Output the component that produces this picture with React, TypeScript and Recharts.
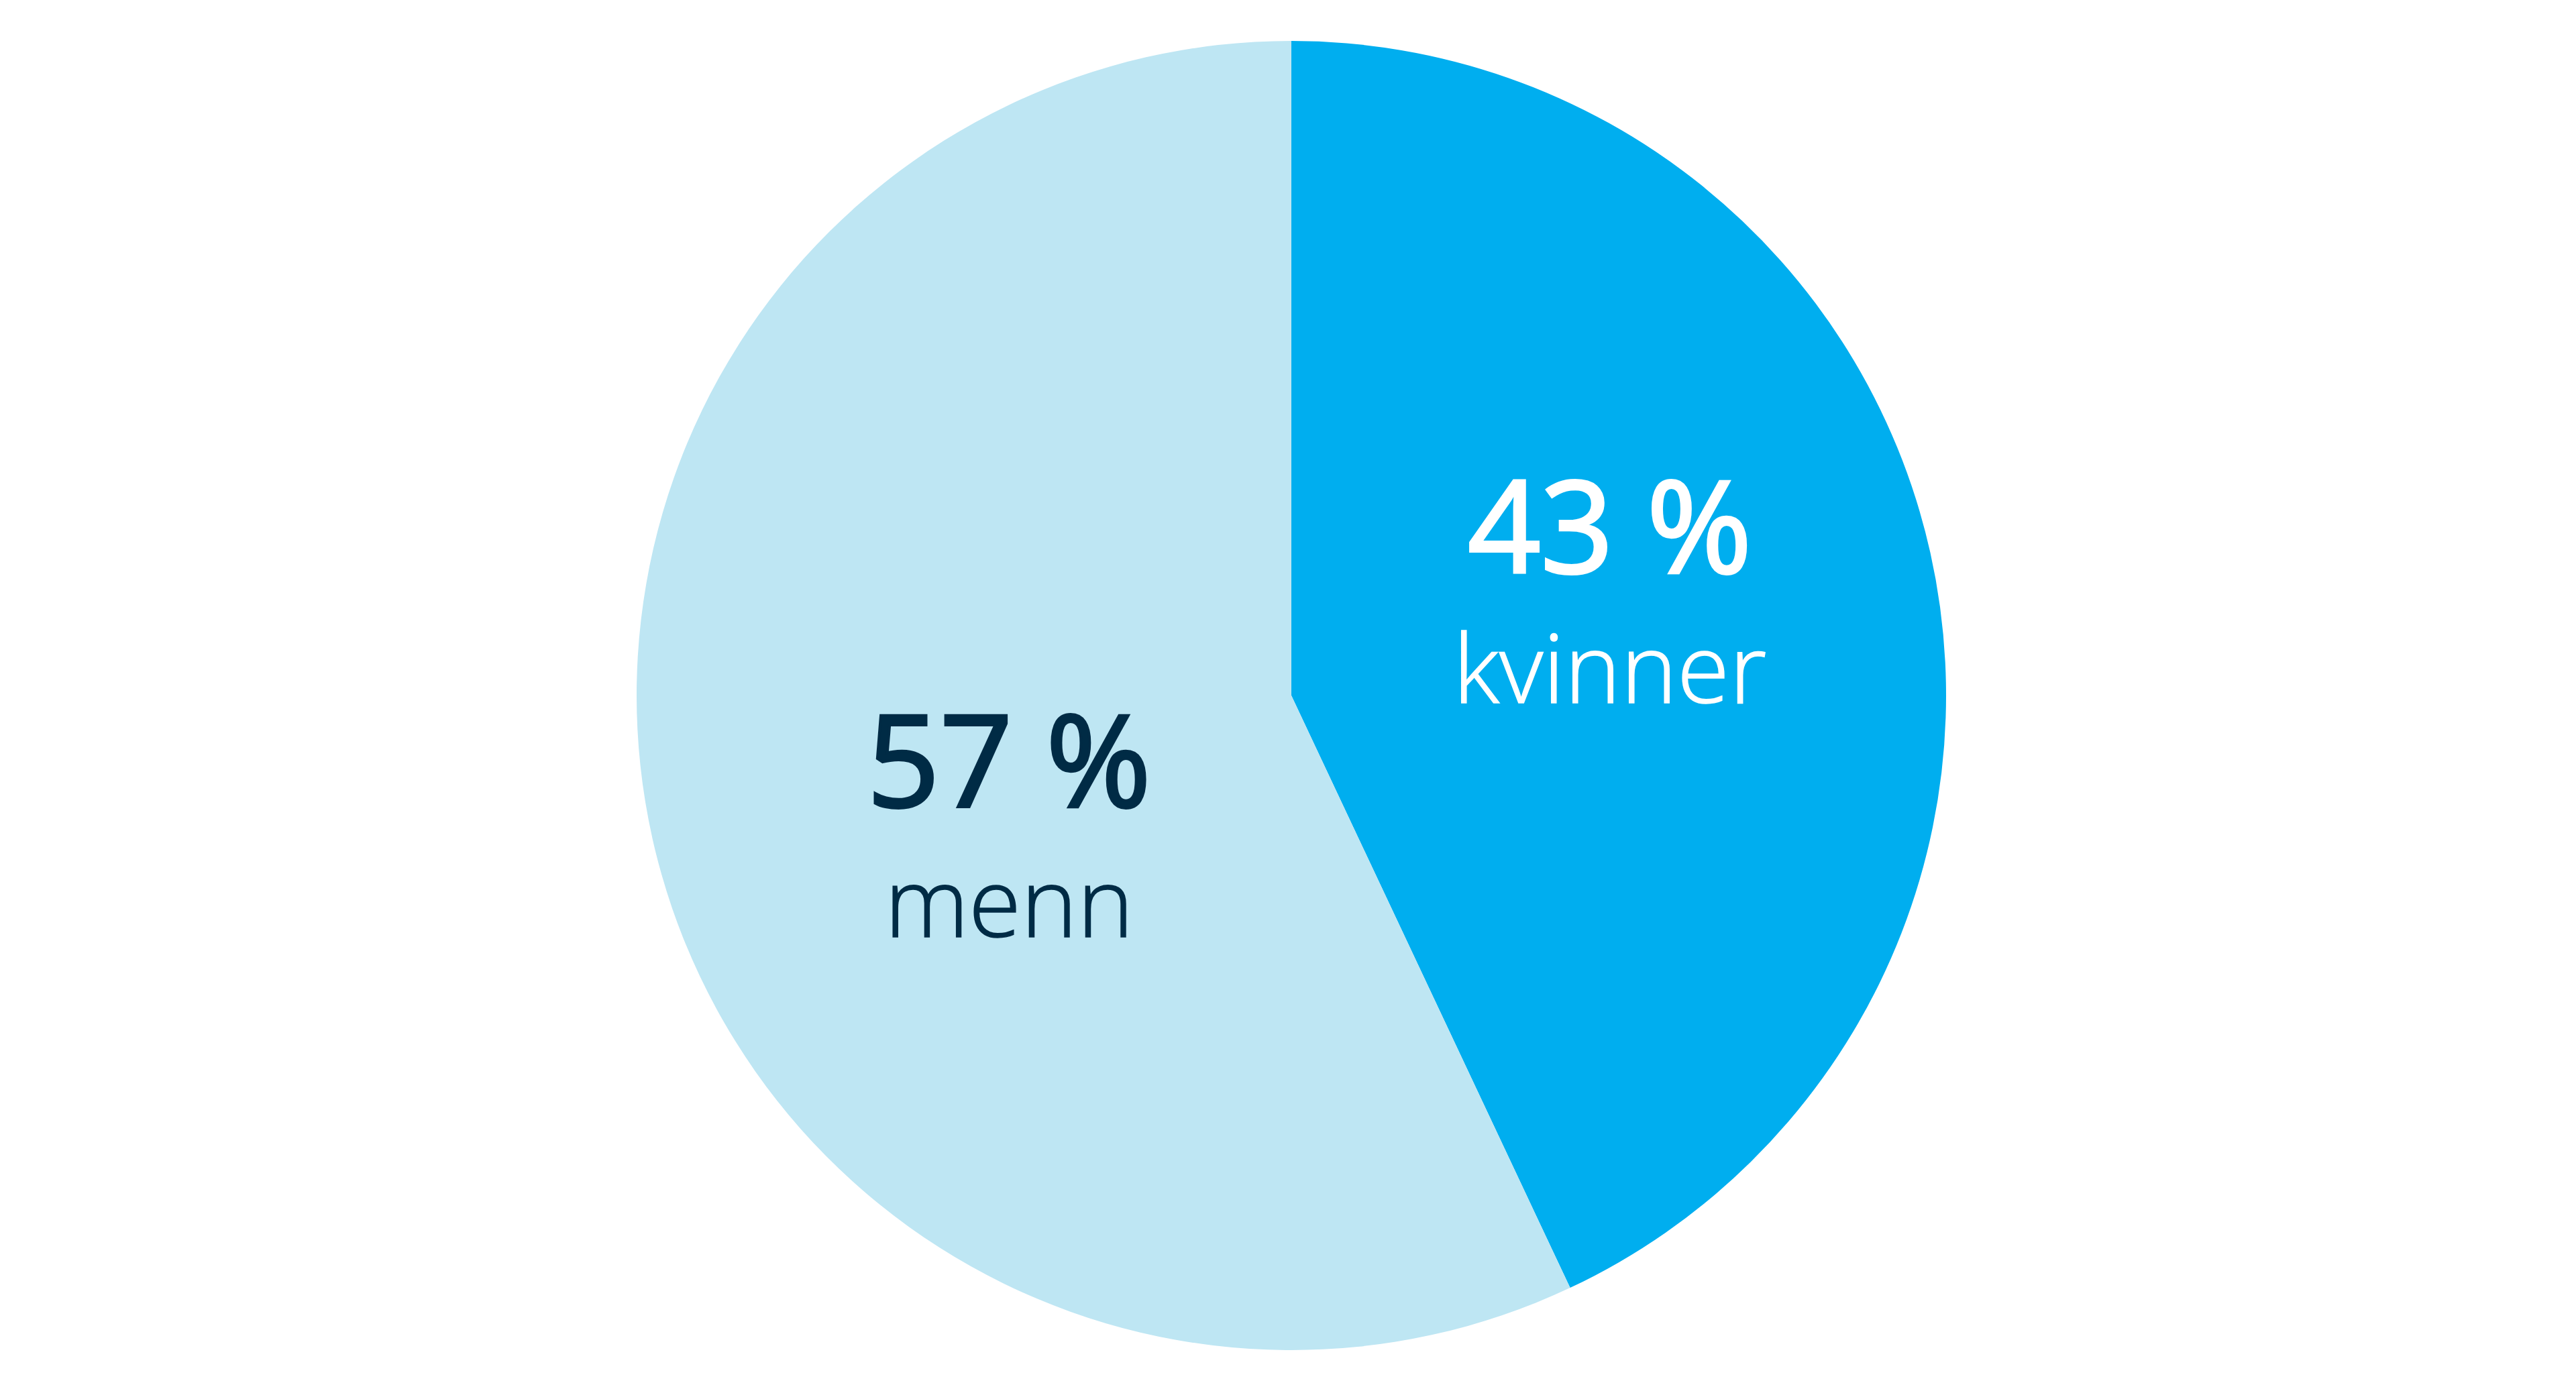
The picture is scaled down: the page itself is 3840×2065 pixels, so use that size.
import { Cell, Pie, PieChart } from "recharts"

const groups = ["kvinner", "menn"]
const shares = [43, 57]
const sliceColors = ["#00aeef", "#bee6f3"]
const textColors = ["#ffffff", "#002b45"]

const data = groups.map((name, i) => ({ name, value: shares[i] }))

const RAD = Math.PI / 180

function SliceLabel(props: any) {
  const { cx, cy, midAngle, outerRadius, index, payload } = props
  // labels sit a little past the slice middle, half way out
  const angle = (midAngle + 8) * RAD
  const r = outerRadius * 0.5
  const x = cx + r * Math.cos(angle) + (index === 0 ? 18 : 36)
  const y = cy - r * Math.sin(angle) - (index === 0 ? 5 : 0)
  const fill = textColors[index]
  return (
    <g>
      {/* regular weight with a thin outline, close to a semibold */}
      <text
        x={x}
        y={y - 6}
        textAnchor="middle"
        fill={fill}
        stroke={fill}
        strokeWidth={4}
        fontFamily="'Open Sans', 'Noto Sans', sans-serif"
        fontWeight={400}
        fontSize={190}
      >
        {`${payload.value} %`}
      </text>
      <text
        x={x}
        y={y + 188}
        textAnchor="middle"
        fill={fill}
        stroke={fill}
        strokeWidth={1.5}
        fontFamily="'Open Sans', 'Noto Sans', sans-serif"
        fontWeight={300}
        fontSize={142}
      >
        {payload.name}
      </text>
    </g>
  )
}

export default function App() {
  return (
    <div style={{ position: "absolute", left: 0, top: 0, background: "#fff" }}>
      <PieChart width={3840} height={2065}>
        <Pie
          data={data}
          dataKey="value"
          nameKey="name"
          cx={1920}
          cy={1032}
          outerRadius={976}
          startAngle={90}
          endAngle={-270}
          stroke="none"
          label={SliceLabel}
          labelLine={false}
          isAnimationActive={false}
        >
          {data.map((d, i) => (
            <Cell key={d.name} fill={sliceColors[i]} />
          ))}
        </Pie>
      </PieChart>
    </div>
  )
}
